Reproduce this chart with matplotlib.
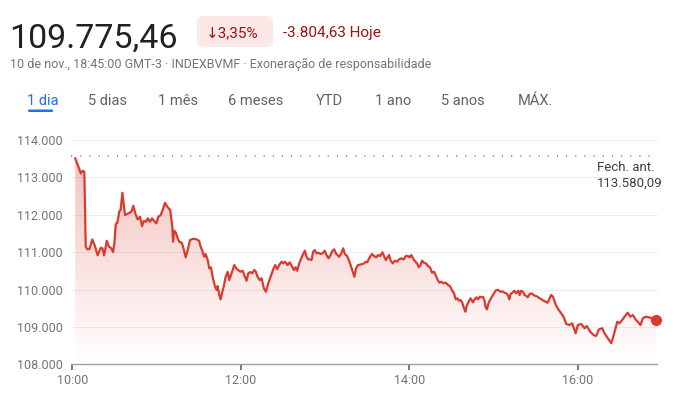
import numpy as np
import matplotlib
matplotlib.use("Agg")
from matplotlib import pyplot as plt
from matplotlib.patches import FancyBboxPatch

plt.rcParams['font.family'] = ['Roboto', 'DejaVu Sans']

# minutes after 10:00 and index level
minutes = [2, 4.3, 6, 7.4, 8.5, 9.5, 10.7, 12.1, 14.2, 16.2, 18, 20.2, 21.4, 22.6, 24.5, 26.1, 27.5, 29, 29.9,
           30.9, 32, 33.4, 34.4, 35.6, 36.6, 37.5, 39.9, 42, 43.4, 44.8, 46.5, 48.2, 49.6, 51, 52.5, 53.7, 55.3,
           56.7, 58.1, 59.8, 61.2, 62.9, 64.3, 66, 67.6, 69.7, 71.2, 71.7, 72.6, 73.8, 75, 76.2, 77.9, 79.5,
           80.7, 82.1, 83.8, 86.1, 88.5, 90.2, 91.4, 92.8, 93.9, 94.9, 96.4, 97.5, 98.7, 99.9, 101.6, 102.8,
           103.5, 104.6, 105.6, 106.8, 107.8, 109.2, 110.6, 111.7, 113.4, 115.3, 116.7, 118.1, 119.6, 121.3,
           122.9, 124.1, 125.3, 126.7, 128.1, 129.5, 130.7, 131.9, 133.4, 134.8, 135.5, 136.4, 137.9, 139.5,
           141.2, 143.1, 144.5, 145.9, 147.3, 149, 150.2, 151.6, 153.3, 154.9, 156.6, 157.8, 159, 160.1, 161.6,
           163, 164.4, 165.6, 166.8, 168, 169.2, 170.4, 171.5, 172.7, 173.9, 175.4, 176.8, 178.2, 179.8, 181,
           182.5, 183.9, 185.3, 186.5, 187.7, 188.9, 190, 191.4, 192.9, 194.1, 195.7, 197.1, 198.6, 200, 200.9,
           202.1, 203.5, 205.9, 207.8, 209, 210.2, 211, 212.1, 213.5, 214.9, 216.4, 217.8, 219.2, 220.9, 222,
           223.3, 224.5, 225.6, 226.8, 228.2, 229.7, 231.3, 232.7, 234.4, 236.1, 237.5, 239.1, 240.3, 241.5,
           243, 244.4, 245.5, 246.8, 248, 249.1, 250.5, 251.9, 253.4, 254.8, 256.2, 257.6, 258.8, 260, 261.5,
           262.9, 264.3, 266, 267.6, 269, 270.4, 271.9, 273.1, 274.3, 275.4, 276.6, 277.8, 279, 280, 280.9,
           282.3, 283.7, 285.4, 286.6, 287.8, 289, 290.2, 291.4, 292.5, 293.5, 294.4, 295.4, 296.4, 297.8,
           299.2, 300.6, 302, 303.5, 304.9, 306.3, 307.7, 309.2, 310.6, 311.3, 312.2, 313.4, 314.8, 316.2,
           317.7, 318.6, 319.8, 321, 322.2, 323.4, 324.5, 325.7, 327.2, 328.6, 330, 331.4, 332.9, 334.3, 335.7,
           337.1, 338.6, 339.5, 341, 342.4, 343.6, 344.8, 346.2, 347.6, 349.9, 351.9, 354.2, 356.1, 358.5,
           360.1, 362.5, 364.9, 366.5, 368.9, 371.3, 373.2, 375.1, 377.5, 379.1, 381.5, 383.9, 385, 387, 388.2,
           389.8, 391.7, 393.4, 395.7, 397.4, 399.3, 401.2, 402.8, 404.7, 406.4, 408.3, 410.7, 413.1, 415.9]
values = [113508, 113284, 113107, 113177, 113150, 111145, 111075, 111083, 111342, 111145, 110915, 111118, 111102,
          110915, 111305, 111145, 111110, 111003, 111236, 111752, 111786, 112081, 112145, 112589, 112260, 111992,
          112038, 112081, 112241, 112038, 111877, 111947, 111698, 111840, 111813, 111904, 111813, 111904, 111840,
          111770, 111947, 111992, 112126, 112321, 112214, 112126, 111680, 111278, 111573, 111519, 111369, 111278,
          111252, 111056, 110861, 111056, 111324, 111359, 111342, 111305, 111145, 111011, 110877, 110949, 110789,
          110567, 110594, 110342, 110075, 109987, 110094, 109853, 109738, 109941, 110075, 110342, 110476, 110254,
          110433, 110655, 110567, 110522, 110476, 110503, 110342, 110235, 110433, 110468, 110433, 110522, 110476,
          110342, 110254, 110300, 110183, 110032, 109941, 110166, 110342, 110540, 110655, 110540, 110655, 110744,
          110700, 110744, 110655, 110727, 110610, 110522, 110594, 110503, 110700, 110834, 110950, 111038, 110877,
          110808, 110808, 110789, 111011, 111056, 110968, 110984, 110950, 110968, 111038, 110923, 110834, 110923,
          111038, 111075, 110968, 110923, 110877, 110950, 111102, 110950, 110896, 110770, 110610, 110450, 110342,
          110567, 110655, 110674, 110700, 110744, 110727, 110808, 110877, 110950, 110896, 110861, 110923, 110896,
          110995, 110896, 110789, 110861, 110923, 110770, 110700, 110770, 110744, 110808, 110834, 110808, 110896,
          110896, 110861, 110923, 110808, 110744, 110700, 110594, 110655, 110770, 110717, 110700, 110629, 110594,
          110450, 110476, 110388, 110273, 110183, 110209, 110166, 110183, 110121, 110094, 109987, 109899, 109738,
          109765, 109701, 109719, 109647, 109497, 109407, 109559, 109674, 109765, 109658, 109738, 109791, 109738,
          109808, 109791, 109808, 109719, 109524, 109470, 109631, 109738, 109826, 109915, 109987, 109987, 109941,
          109952, 109915, 109899, 109826, 109738, 109880, 109915, 109968, 109899, 109968, 109853, 109968, 109941,
          109853, 109826, 109791, 109880, 109899, 109853, 109826, 109808, 109765, 109738, 109701, 109674, 109647,
          109719, 109853, 109808, 109674, 109559, 109470, 109400, 109273, 109078, 109051, 109096, 108829, 109051,
          109078, 108963, 109024, 108872, 108783, 108757, 108936, 108963, 108829, 108695, 108562, 108695, 108963,
          109139, 109096, 109185, 109273, 109380, 109273, 109318, 109203, 109139, 109051, 109230, 109273, 109257,
          109230, 109185]

prev_close = 113580.09
y_ticks = [108000, 109000, 110000, 111000, 112000, 113000, 114000]
x_ticks = [0, 120, 240, 360]
x_labels = ['10:00', '12:00', '14:00', '16:00']
tabs = ['1 dia', '5 dias', '1 mês', '6 meses', 'YTD', '1 ano', '5 anos', 'MÁX.']
tab_x = [27, 88, 158, 228, 316, 375, 441, 518]

RED = '#db3a2e'
W, H = 689, 393

fig = plt.figure(figsize=(W / 100, H / 100), dpi=100)
ax = fig.add_axes([71 / W, 1 - 364.3 / H, 586 / W, (364.3 - 140) / H])

x = np.array(minutes)
y = np.array(values)

ymin, ymax = 108000, 114000
ax.set_xlim(-1, 416.5)
ax.set_ylim(ymin, ymax)

# gradient fill under the line
poly = ax.fill_between(x, y, ymin, color='none', lw=0)
grad = np.zeros((200, 1, 4))
grad[:, 0, 0] = 217 / 255
grad[:, 0, 1] = 48 / 255
grad[:, 0, 2] = 37 / 255
grad[:, 0, 3] = np.linspace(0.3, 0.0, 200)
img = ax.imshow(grad, aspect='auto', extent=[x[0], x[-1], ymin, 113600], origin='upper', zorder=1)
img.set_clip_path(poly.get_paths()[0], transform=ax.transData)

ax.plot(x, y, color=RED, lw=1.6, zorder=3, solid_joinstyle='round')
ax.plot(x[-1], y[-1], 'o', color=RED, ms=7, zorder=4, clip_on=False)

ax.axhline(prev_close, color='#80868b', lw=1.1, dashes=(0.8, 5.2), zorder=2)

for t in y_ticks[1:]:
    ax.axhline(t, color='#eeeeee', lw=0.8, zorder=0, clip_on=False)

for s in ['top', 'right', 'left']:
    ax.spines[s].set_visible(False)
ax.spines['bottom'].set_color('#9aa0a6')
ax.spines['bottom'].set_linewidth(1)

ax.set_yticks(y_ticks)
ax.set_yticklabels([f'{t:,}'.replace(',', '.') for t in y_ticks])
ax.tick_params(axis='y', length=0, pad=6, labelsize=9, labelcolor='#70757a')
ax.set_xticks(x_ticks)
ax.set_xticklabels(x_labels)
ax.tick_params(axis='x', length=4, width=1.2, color='#5f6368', pad=3, labelsize=9, labelcolor='#70757a')


def ftext(px, py, s, **kw):
    fig.text(px / W, 1 - py / H, s, **kw)


ftext(597, 171.5, 'Fech. ant.', fontsize=9.5, color='#3c4043', va='baseline')
ftext(597, 187, '113.580,09', fontsize=9.5, color='#3c4043', va='baseline')

# header
ftext(9, 47.5, '109.775,46', fontsize=24.5, color='#202124', va='baseline')
badge = FancyBboxPatch((197 / W, 1 - 47 / H), 76 / W, 31 / H,
                       boxstyle='round,pad=0,rounding_size=0.012',
                       transform=fig.transFigure, fc='#fce8e6', ec='none')
fig.patches.append(badge)
ftext(206, 37, '↓3,35%', fontsize=11, color='#a50e0e', va='baseline')
ftext(283, 37, '-3.804,63 Hoje', fontsize=11, color='#a50e0e', va='baseline')
ftext(10, 68, '10 de nov., 18:45:00 GMT-3 · INDEXBVMF · Exoneração de responsabilidade',
      fontsize=9, color='#70757a', va='baseline')

for lbl, px in zip(tabs, tab_x):
    c = '#1a73e8' if lbl == '1 dia' else '#5f6368'
    ftext(px, 105, lbl, fontsize=10.5, color=c, va='baseline')
fig.patches.append(FancyBboxPatch((28 / W, 1 - 112 / H), 25 / W, 2.5 / H,
                                  boxstyle='round,pad=0,rounding_size=0.002',
                                  transform=fig.transFigure, fc='#1a73e8', ec='none'))

fig.savefig('out.png', dpi=100)
